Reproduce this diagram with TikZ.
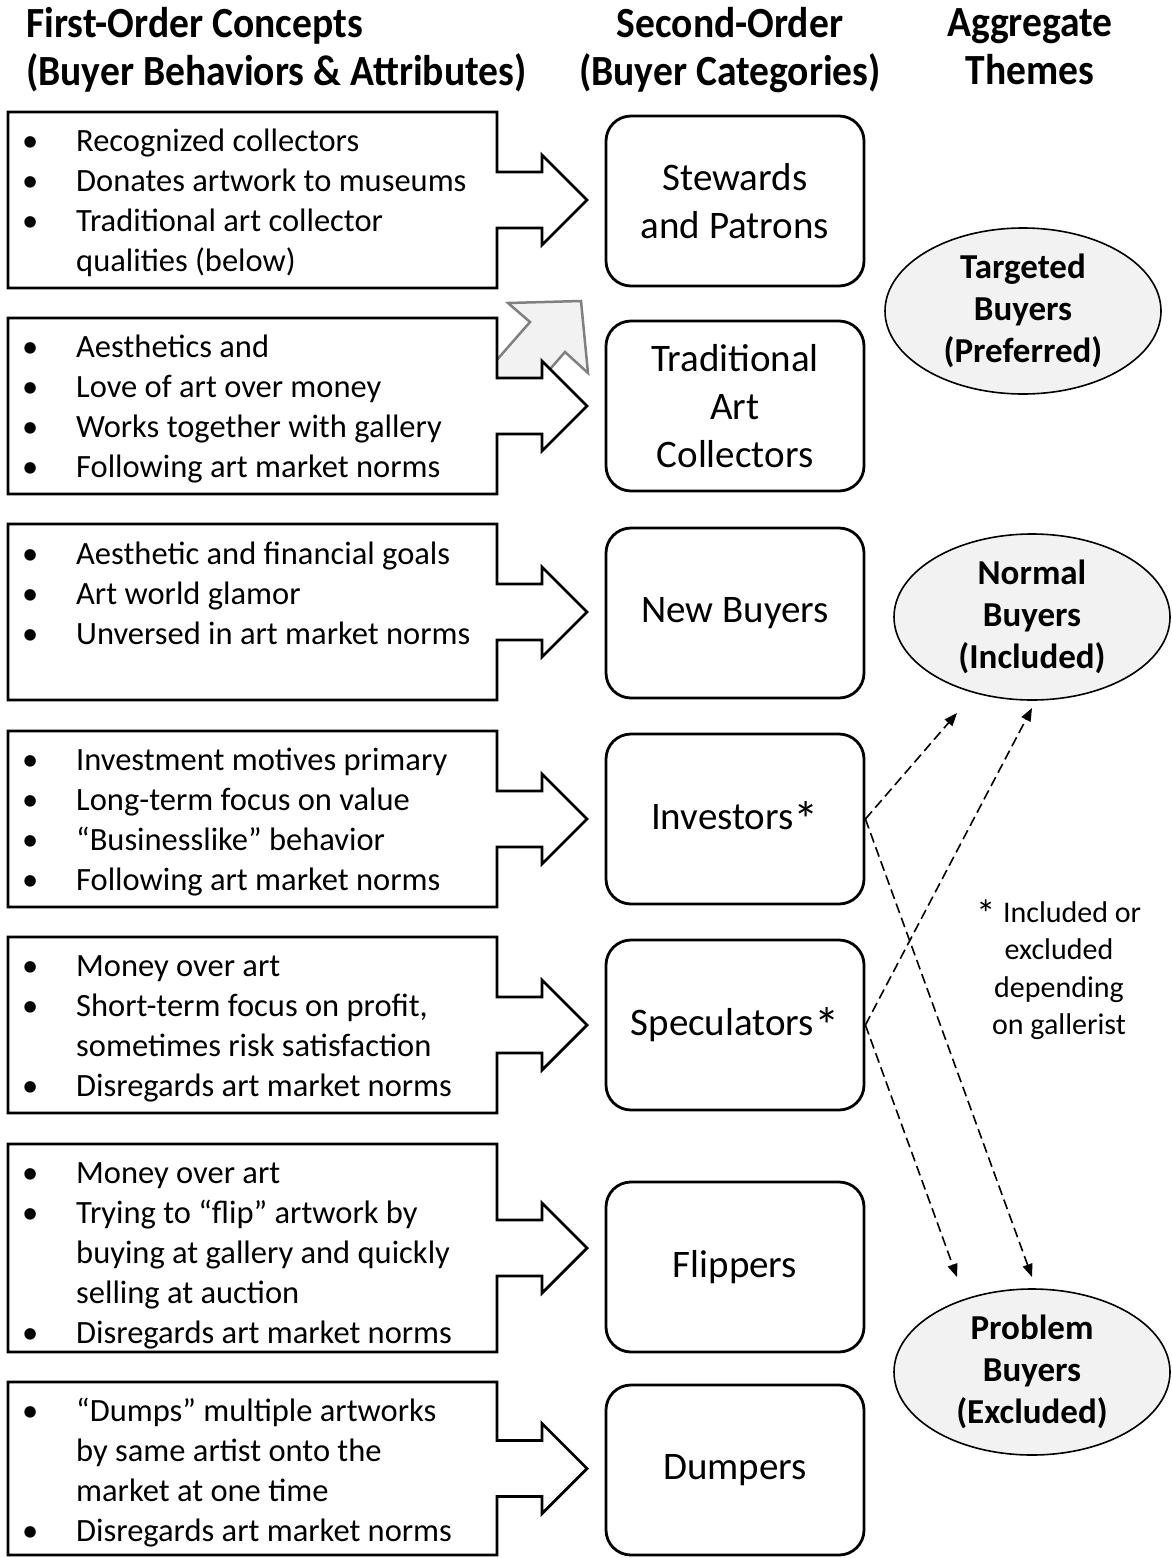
\documentclass[tikz,border=0pt]{standalone}
\usepackage{fontspec}
\setmainfont{Carlito}
\newfontfamily\headfont[FakeStretch=0.92]{Carlito}
\usetikzlibrary{arrows.meta,shapes.geometric}

\newcommand{\itm}{\strut\makebox[54pt][l]{\textbullet}}
\newcommand{\ind}{\strut\hspace*{54pt}}
\newcommand{\astk}{\raisebox{-0.18em}{\scalebox{1.3}{*}}}

\begin{document}
\begin{tikzpicture}[
    x = 1pt,
    y = -1pt,
    >={Triangle[length=13pt,width=10pt]},
    head/.style = {
      inner sep = 0pt,
      font = \headfont\bfseries\fontsize{43}{48}\selectfont
    },
    outline/.style = {
      draw,
      fill = white,
      line width = 2.8pt,
      line join = miter
    },
    attr/.style = {
      anchor = north west,
      align = left,
      inner sep = 0pt,
      font = \fontsize{32.5}{40}\selectfont
    },
    cat/.style = {
      draw,
      line width = 2.8pt,
      rounded corners = 25pt,
      minimum width = 258pt,
      minimum height = 170pt,
      align = center,
      font = \fontsize{39}{48}\selectfont
    },
    theme/.style = {
      draw,
      ellipse,
      line width = 1.6pt,
      fill = black!5,
      minimum width = 276pt,
      minimum height = 166pt,
      inner sep = 0pt,
      align = center,
      font = \bfseries\fontsize{35}{42}\selectfont
    },
    link/.style = {
      ->,
      line width = 1.6pt,
      dash pattern = on 10pt off 5pt
    }
  ]
  \useasboundingbox (0,0) rectangle (1172,1558);
  \fill[white] (0,0) rectangle (1172,1558);

  % column headings
  \node[head, anchor=north west, align=left] (h1) at (26,7) {First-Order Concepts\\(Buyer Behaviors \& Attributes)};
  \node[head, anchor=north, align=center] (h2) at (730,7) {Second-Order\\(Buyer Categories)};
  \node[head, anchor=north, align=center] (h3) at (1030,8) {Aggregate\\Themes};

  % gray arrow behind the second box
  \draw[draw=black!50, fill=black!5, line width=2.5pt, line join=miter]
    (474,386) -- (530,322) -- (508,303) -- (581,301) -- (588,373) -- (565,352) -- (509,416) -- cycle;

  % boxes with block arrows
  \foreach \t/\b in {112/288, 318/494, 524/700, 731/907, 937/1113, 1144/1352, 1382/1555} {
    \pgfmathsetmacro\c{(\t+\b)/2}
    \draw[outline] (8,\t) -- (497,\t) -- (497,\c-28) -- (542,\c-28) -- (542,\c-45) -- (587,\c)
      -- (542,\c+45) -- (542,\c+28) -- (497,\c+28) -- (497,\b) -- (8,\b) -- cycle;
  }

  \node[attr] (attr1) at (22,123) {\itm Recognized collectors\\ \itm Donates artwork to museums\\ \itm Traditional art collector\\ \ind qualities (below)};
  \node[attr] (attr2) at (22,329) {\itm Aesthetics and\\ \itm Love of art over money\\ \itm Works together with gallery\\ \itm Following art market norms};
  \node[attr] (attr3) at (22,536) {\itm Aesthetic and financial goals\\ \itm Art world glamor\\ \itm Unversed in art market norms};
  \node[attr] (attr4) at (22,742) {\itm Investment motives primary\\ \itm Long-term focus on value\\ \itm “Businesslike” behavior\\ \itm Following art market norms};
  \node[attr] (attr5) at (22,948) {\itm Money over art\\ \itm Short-term focus on profit,\\ \ind sometimes risk satisfaction\\ \itm Disregards art market norms};
  \node[attr] (attr6) at (22,1155) {\itm Money over art\\ \itm Trying to “flip” artwork by\\ \ind buying at gallery and quickly\\ \ind selling at auction\\ \itm Disregards art market norms};
  \node[attr] (attr7) at (22,1393) {\itm “Dumps” multiple artworks\\ \ind by same artist onto the\\ \ind market at one time\\ \itm Disregards art market norms};

  % buyer categories
  \node[cat] (stew) at (735,201)  {Stewards\\and Patrons};
  \node[cat] (trad) at (735,406)  {Traditional\\Art\\Collectors};
  \node[cat] (newb) at (735,613)  {New Buyers};
  \node[cat] (inv)  at (735,819)  {Investors\astk};
  \node[cat] (spec) at (735,1025) {Speculators\astk};
  \node[cat] (flip) at (735,1267) {Flippers};
  \node[cat] (dump) at (735,1470) {Dumpers};

  % aggregate themes
  \node[theme] (targ) at (1023,311)  {Targeted\\Buyers\\(Preferred)};
  \node[theme] (norm) at (1032,617)  {Normal\\Buyers\\(Included)};
  \node[theme] (prob) at (1032,1372) {Problem\\Buyers\\(Excluded)};

  \node[align=center, inner sep=0pt, font=\fontsize{30}{37.5}\selectfont] (note) at (1059,970)
    {\astk{} Included or\\excluded\\depending\\on gallerist};

  \coordinate (norm in1) at (957,713);
  \coordinate (norm in2) at (1032,708);
  \coordinate (prob in1) at (957,1277);
  \coordinate (prob in2) at (1032,1277);

  \draw[link] (inv.east)  -- (norm in1);
  \draw[link] (spec.east) -- (norm in2);
  \draw[link] (inv.east)  -- (prob in2);
  \draw[link] (spec.east) -- (prob in1);
\end{tikzpicture}
\end{document}
